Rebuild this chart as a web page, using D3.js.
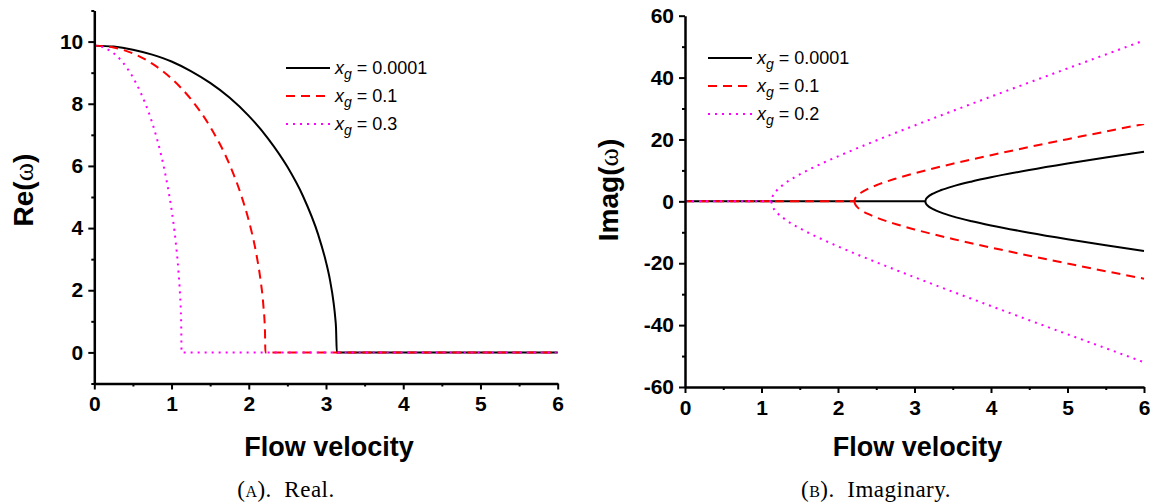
<!DOCTYPE html>
<html>
<head>
<meta charset="utf-8">
<script src="https://cdn.jsdelivr.net/npm/d3@7"></script>
<style>
  body { margin: 0; background: #fff; }
  svg { display: block; font-family: 'Liberation Sans', Arial, sans-serif; }
  .axis path, .axis line { stroke: #000; }
  .axis path { stroke-width: 2.5; }
  .axis line { stroke-width: 2; }
  .axis text { font-size: 21px; font-weight: bold; fill: #000; }
  .caption { font-family: 'Liberation Serif', 'Times New Roman', serif; font-size: 23px; letter-spacing: 0.5px; white-space: pre; }
</style>
</head>
<body>
<svg id="chart" width="1155" height="504"></svg>
<script>
// values
var xTicks = [0, 1, 2, 3, 4, 5, 6]
var xMinor = [0.5, 1.5, 2.5, 3.5, 4.5, 5.5]
var reTicks = [0, 2, 4, 6, 8, 10]
var reMinor = [-1, 1, 3, 5, 7, 9, 11]
var imTicks = [-60, -40, -20, 0, 20, 40, 60]
var imMinor = [-50, -30, -10, 10, 30, 50]

var reLegend = ['0.0001', '0.1', '0.3']
var imLegend = ['0.0001', '0.1', '0.2']

// Re(w), left panel
var reVelBlack = [0, 0.25, 0.5, 0.75, 1, 1.25, 1.5, 1.75, 2, 2.25, 2.5, 2.7, 2.9, 3.0, 3.05, 3.1, 3.12, 3.13, 3.14, 6]
var reBlack = [9.87, 9.84, 9.74, 9.58, 9.36, 9.05, 8.67, 8.2, 7.61, 6.88, 5.97, 5.04, 3.78, 2.91, 2.35, 1.57, 1.11, 0.78, 0, 0]
var reVelRed = [0, 0.25, 0.5, 0.75, 1, 1.25, 1.5, 1.75, 1.9, 2.0, 2.1, 2.15, 2.19, 2.21, 2.215, 6]
var reRed = [9.87, 9.81, 9.62, 9.29, 8.81, 8.15, 7.26, 6.05, 5.07, 4.24, 3.14, 2.37, 1.48, 0.66, 0, 0]
var reVelPink = [0, 0.1, 0.2, 0.3, 0.4, 0.5, 0.6, 0.7, 0.8, 0.9, 0.95, 1.0, 1.05, 1.09, 1.11, 1.125, 1.13, 6]
var rePink = [9.87, 9.83, 9.71, 9.52, 9.23, 8.85, 8.36, 7.75, 6.97, 5.97, 5.34, 4.6, 3.65, 2.6, 1.85, 0.92, 0, 0]

// Imag(w), right panel, upper branch (the lower one is its mirror)
var imVelBlack = [0, 3.14, 3.15, 3.17, 3.25, 3.35, 3.5, 3.75, 4, 4.5, 5, 5.5, 6]
var imBlack = [0, 0, 0.72, 1.33, 2.61, 3.65, 4.85, 6.43, 7.78, 10.12, 12.22, 14.18, 16.06]
var imVelRed = [0, 2.215, 2.22, 2.25, 2.3, 2.4, 2.5, 2.75, 3, 3.5, 4, 4.5, 5, 5.5, 6]
var imRed = [0, 0, 0.67, 1.77, 2.78, 4.14, 5.2, 7.31, 9.07, 12.15, 14.93, 17.56, 20.1, 22.57, 25]
var imVelPink = [0, 1.13, 1.135, 1.15, 1.2, 1.3, 1.5, 1.75, 2, 2.5, 3, 3.5, 4, 4.5, 5, 5.5, 6]
var imPink = [0, 0, 0.93, 1.88, 3.56, 5.67, 8.7, 11.79, 14.55, 19.67, 24.51, 29.22, 33.84, 38.42, 42.96, 47.47, 52]

var styles = [
  { color: '#000', dash: null },
  { color: '#ff0000', dash: '9,6' },
  { color: '#ff00ff', dash: '2,5' }
]

var svg = d3.select('#chart')

function toPoints (xs, ys) {
  return xs.map(function (v, i) { return [v, ys[i]] })
}

function mirror (ys) {
  return ys.map(function (v) { return -v })
}

// plain hyphen for negatives, like the original
var tickFmt = function (d) { return String(d) }

function drawPanel (p) {
  var x = d3.scaleLinear().domain([0, 6]).range(p.xRange)
  var y = d3.scaleLinear().domain(p.yDomain).range(p.yRange)
  var g = svg.append('g')

  var line = d3.line()
    .x(function (d) { return x(d[0]) })
    .y(function (d) { return y(d[1]) })
    .curve(d3.curveMonotoneX)

  p.series.forEach(function (s) {
    g.append('path')
      .datum(s.points)
      .attr('fill', 'none')
      .attr('stroke', styles[s.style].color)
      .attr('stroke-width', 2)
      .attr('stroke-dasharray', styles[s.style].dash)
      .attr('d', line)
  })

  // minor ticks
  g.append('g').attr('class', 'axis')
    .attr('transform', 'translate(0,' + p.yRange[0] + ')')
    .call(d3.axisBottom(x).tickValues(xMinor).tickSize(3).tickFormat(''))
    .select('.domain').remove()
  g.append('g').attr('class', 'axis')
    .attr('transform', 'translate(' + p.xRange[0] + ',0)')
    .call(d3.axisLeft(y).tickValues(p.yMinor).tickSize(3).tickFormat(''))
    .select('.domain').remove()

  g.append('g').attr('class', 'axis')
    .attr('transform', 'translate(0,' + p.yRange[0] + ')')
    .call(d3.axisBottom(x).tickValues(xTicks).tickFormat(tickFmt).tickSize(6).tickSizeOuter(0).tickPadding(7))
  g.append('g').attr('class', 'axis')
    .attr('transform', 'translate(' + p.xRange[0] + ',0)')
    .call(d3.axisLeft(y).tickValues(p.yTicks).tickFormat(tickFmt).tickSize(6).tickSizeOuter(0).tickPadding(5))

  // axis titles
  g.append('text')
    .attr('x', (p.xRange[0] + p.xRange[1]) / 2 + 3)
    .attr('y', 456)
    .attr('text-anchor', 'middle')
    .style('font-size', '27px')
    .style('font-weight', 'bold')
    .text('Flow velocity')

  var yt = g.append('text')
    .attr('transform', 'translate(' + p.yTitle[0] + ',' + p.yTitle[1] + ') rotate(-90)')
    .attr('text-anchor', 'middle')
    .style('font-size', '28px')
    .style('font-weight', 'bold')
  yt.append('tspan').text(p.yName + '(')
  yt.append('tspan').style('font-family', "'Liberation Serif', serif").style('font-weight', 'normal').text('ω')
  yt.append('tspan').text(')')

  // legend
  p.legend.forEach(function (val, i) {
    var ly = p.legendPos[1] + i * 28
    g.append('line')
      .attr('x1', p.legendPos[0]).attr('x2', p.legendPos[0] + 44)
      .attr('y1', ly).attr('y2', ly)
      .attr('stroke', styles[i].color)
      .attr('stroke-width', 2)
      .attr('stroke-dasharray', styles[i].dash)
    var t = g.append('text')
      .attr('x', p.legendPos[0] + 49)
      .attr('y', ly + 6)
      .style('font-size', '18px')
    t.append('tspan').style('font-style', 'italic').text('x')
    t.append('tspan').style('font-style', 'italic').style('font-size', '14px').attr('dy', 5).text('g')
    t.append('tspan').attr('dy', -5).text(' = ' + val)
  })

  // caption
  var c = svg.append('text')
    .attr('class', 'caption')
    .attr('x', p.caption[0])
    .attr('y', 497)
    .attr('text-anchor', 'middle')
  c.append('tspan').text('(')
  c.append('tspan').style('font-variant', 'small-caps').text(p.caption[1])
  c.append('tspan').text(').  ' + p.caption[2])
}

drawPanel({
  xRange: [94.3, 557.7],
  yDomain: [-1, 11],
  yRange: [383.5, 10.5],
  yTicks: reTicks,
  yMinor: reMinor,
  yName: 'Re',
  yTitle: [33, 190],
  legend: reLegend,
  legendPos: [286, 68],
  caption: [286, 'a', 'Real.'],
  series: [
    { style: 0, points: toPoints(reVelBlack, reBlack) },
    { style: 1, points: toPoints(reVelRed, reRed) },
    { style: 2, points: toPoints(reVelPink, rePink) }
  ]
})

drawPanel({
  xRange: [685, 1144],
  yDomain: [-60, 60],
  yRange: [387, 15.7],
  yTicks: imTicks,
  yMinor: imMinor,
  yName: 'Imag',
  yTitle: [618, 190],
  legend: imLegend,
  legendPos: [708, 58],
  caption: [876, 'b', 'Imaginary.'],
  series: [
    { style: 0, points: toPoints(imVelBlack, imBlack) },
    { style: 0, points: toPoints(imVelBlack.slice(1), mirror(imBlack.slice(1))) },
    { style: 1, points: toPoints(imVelRed, imRed) },
    { style: 1, points: toPoints(imVelRed.slice(1), mirror(imRed.slice(1))) },
    { style: 2, points: toPoints(imVelPink, imPink) },
    { style: 2, points: toPoints(imVelPink.slice(1), mirror(imPink.slice(1))) }
  ]
})
</script>
</body>
</html>
